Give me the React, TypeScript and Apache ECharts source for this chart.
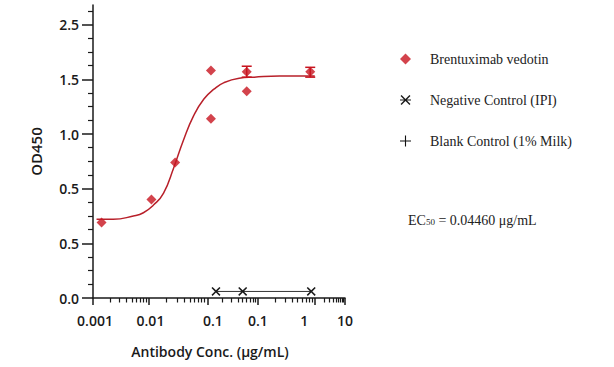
import React, { useEffect, useRef } from "react";
import * as echarts from "echarts";

// X axis is drawn in display units (axis positions), as in the reference
const xMajorTickPos = [0, 1.11, 2.27, 3.27, 4.4, 5.0];
const xLabelPos = [0.04, 1.14, 2.38, 3.27, 4.19, 5.0];
const xLabels = ["0.001", "0.01", "0.1", "0.1", "1", "10"];

const yTickVals = [0, 0.5, 1.0, 1.5, 2.0, 2.5];
const yLabels = ["0.0", "0.5", "0.5", "1.0", "1.5", "2.5"];

// Brentuximab vedotin replicate points [xPos, OD]
const brentX = [0.17, 1.16, 1.63, 2.34, 2.34, 3.05, 3.05, 4.31];
const brentY = [0.69, 0.9, 1.24, 2.08, 1.64, 2.07, 1.89, 2.07];

// error bars [xPos, low, high]
const errX = [3.05, 4.31];
const errLow = [2.02, 2.02];
const errHigh = [2.12, 2.11];

// fitted curve
const fitX = [0.07, 0.4, 0.8, 1.0, 1.2, 1.4, 1.6, 1.8, 2.0, 2.2, 2.4, 2.6, 2.9, 3.2, 3.7, 4.4];
const fitY = [0.72, 0.72, 0.75, 0.78, 0.85, 0.96, 1.19, 1.45, 1.67, 1.82, 1.91, 1.97, 2.01, 2.02, 2.03, 2.03];

// Negative control (IPI)
const negX = [2.44, 2.97, 4.33];
const negY = [0.06, 0.06, 0.06];

const seriesNames = ["Brentuximab vedotin", "Negative Control (IPI)", "Blank Control (1% Milk)"];

const RED = "#c8141f";
const AXIS_FONT = "'Open Sans', 'Noto Sans', sans-serif";
const SERIF = "'Liberation Serif', 'DejaVu Serif', serif";

const X_ICON =
  "path://M0,1.2 L1.2,0 L5,3.8 L8.8,0 L10,1.2 L6.2,5 L10,8.8 L8.8,10 L5,6.2 L1.2,10 L0,8.8 L3.8,5 Z";
const X_LEGEND_ICON =
  "path://M1.4,0.5 L5,4.1 L8.6,0.5 L9.5,1.4 L5.9,5 L9.5,8.6 L8.6,9.5 L5,5.9 L1.4,9.5 L0.5,8.6 L4.1,5 L0.5,1.4 Z M0,4.6 L10,4.6 L10,5.4 L0,5.4 Z";
const PLUS_ICON = "path://M4.5,0 L5.5,0 L5.5,10 L4.5,10 Z M0,4.5 L10,4.5 L10,5.5 L0,5.5 Z";

export default function App() {
  const ref = useRef<HTMLDivElement>(null);
  useEffect(() => {
    if (!ref.current) return;
    const chart = echarts.init(ref.current, undefined, { renderer: "svg" });

    // minor tick positions (log-style within each labelled segment)
    const xMinor: number[] = [];
    for (let i = 0; i < xMajorTickPos.length - 1; i++) {
      const a = xMajorTickPos[i];
      const b = xMajorTickPos[i + 1];
      for (let k = 2; k <= 9; k++) xMinor.push(a + (b - a) * Math.log10(k));
    }
    const yMinor: number[] = [];
    for (let v = 0.125; v < 2.68; v += 0.125) {
      if (Math.abs(v / 0.5 - Math.round(v / 0.5)) > 1e-6) yMinor.push(+v.toFixed(3));
    }

    const findLabel = (val: number, pos: number[], labels: string[]) => {
      for (let i = 0; i < pos.length; i++) if (Math.abs(pos[i] - val) < 1e-6) return labels[i];
      return "";
    };

    const axisText = { color: "#1a1a1a", fontFamily: AXIS_FONT, fontWeight: 600, fontSize: 14 };

    chart.setOption({
      animation: false,
      backgroundColor: "#ffffff",
      grid: { left: 93, right: 269, top: 5, bottom: 69, containLabel: false },
      xAxis: [
        {
          type: "value",
          min: 0,
          max: 5,
          axisLine: { show: true, lineStyle: { color: "#1a1a1a", width: 1.5 } },
          axisTick: { show: true, customValues: xMajorTickPos, length: 7, lineStyle: { color: "#1a1a1a", width: 1.5 } },
          axisLabel: {
            customValues: xLabelPos,
            formatter: (v: number) => findLabel(v, xLabelPos, xLabels),
            margin: 15,
            ...axisText,
          },
          splitLine: { show: false },
          name: "Antibody Conc. (μg/mL)",
          nameLocation: "middle",
          nameGap: 46,
          nameTextStyle: { ...axisText, padding: [0, 18, 0, 0] },
        },
        {
          type: "value",
          min: 0,
          max: 5,
          position: "bottom",
          axisLine: { show: false },
          axisTick: { show: true, customValues: xMinor, length: 4.5, lineStyle: { color: "#1a1a1a", width: 1.2 } },
          axisLabel: { show: false },
          splitLine: { show: false },
        },
      ],
      yAxis: [
        {
          type: "value",
          min: 0,
          max: 2.68,
          axisLine: { show: true, lineStyle: { color: "#1a1a1a", width: 1.5 } },
          axisTick: { show: true, customValues: yTickVals, length: 11, lineStyle: { color: "#1a1a1a", width: 1.5 } },
          axisLabel: {
            customValues: yTickVals,
            formatter: (v: number) => findLabel(v, yTickVals, yLabels),
            margin: 14,
            ...axisText,
          },
          splitLine: { show: false },
          name: "OD450",
          nameLocation: "middle",
          nameGap: 50,
          nameTextStyle: { ...axisText, fontSize: 15 },
        },
        {
          type: "value",
          min: 0,
          max: 2.68,
          position: "left",
          axisLine: { show: false },
          axisTick: { show: true, customValues: yMinor, length: 5, lineStyle: { color: "#1a1a1a", width: 1.2 } },
          axisLabel: { show: false },
          splitLine: { show: false },
        },
      ],
      legend: {
        orient: "vertical",
        left: 395,
        top: 47,
        itemGap: 27,
        itemWidth: 11,
        itemHeight: 11,
        selectedMode: false,
        textStyle: { fontFamily: SERIF, fontSize: 14, color: "#222", padding: [0, 0, 0, 14] },
        data: [
          { name: seriesNames[0], icon: "diamond" },
          { name: seriesNames[1], icon: X_LEGEND_ICON },
          { name: seriesNames[2], icon: PLUS_ICON },
        ],
      },
      graphic: [
        {
          type: "text",
          left: 408,
          top: 213,
          style: {
            text: "{a|EC}{b|50}{a| = 0.04460 μg/mL}",
            rich: {
              a: { fontFamily: SERIF, fontSize: 14, fill: "#222", lineHeight: 18, verticalAlign: "bottom" },
              b: { fontFamily: SERIF, fontSize: 9, fill: "#222", lineHeight: 18, verticalAlign: "bottom", padding: [0, 0, 1, 0] },
            },
          },
        },
      ],
      series: [
        {
          name: "fit",
          type: "line",
          data: fitX.map((x, i) => [x, fitY[i]]),
          smooth: 0.5,
          showSymbol: false,
          symbol: "none",
          lineStyle: { color: "#b8202a", width: 1.5 },
          itemStyle: { color: "#b8202a" },
          z: 2,
          silent: true,
        },
        {
          name: "errors",
          type: "custom",
          data: errX.map((x, i) => [x, errLow[i], errHigh[i]]),
          renderItem: (params: any, api: any) => {
            const x = api.value(0);
            const lo = api.coord([x, api.value(1)]);
            const hi = api.coord([x, api.value(2)]);
            const st = { stroke: RED, lineWidth: 1.5 };
            return {
              type: "group",
              children: [
                { type: "line", shape: { x1: lo[0], y1: lo[1], x2: hi[0], y2: hi[1] }, style: st },
                { type: "line", shape: { x1: hi[0] - 5, y1: hi[1], x2: hi[0] + 5, y2: hi[1] }, style: st },
                { type: "line", shape: { x1: lo[0] - 5, y1: lo[1], x2: lo[0] + 5, y2: lo[1] }, style: st },
              ],
            };
          },
          z: 3,
          silent: true,
        },
        {
          name: seriesNames[0],
          type: "scatter",
          data: brentX.map((x, i) => [x, brentY[i]]),
          symbol: "diamond",
          symbolSize: 10,
          itemStyle: { color: RED },
          z: 4,
        },
        {
          name: seriesNames[1],
          type: "line",
          data: negX.map((x, i) => [x, negY[i]]),
          symbol: X_ICON,
          symbolSize: 9,
          lineStyle: { color: "#333", width: 1 },
          itemStyle: { color: "#1a1a1a" },
          z: 4,
        },
        {
          name: seriesNames[2],
          type: "line",
          data: [],
          symbol: PLUS_ICON,
          itemStyle: { color: "#111" },
          lineStyle: { color: "#111" },
        },
      ],
    });
    return () => chart.dispose();
  }, []);
  return <div ref={ref} style={{ position: "fixed", left: 0, top: 0, width: 614, height: 367 }} />;
}
